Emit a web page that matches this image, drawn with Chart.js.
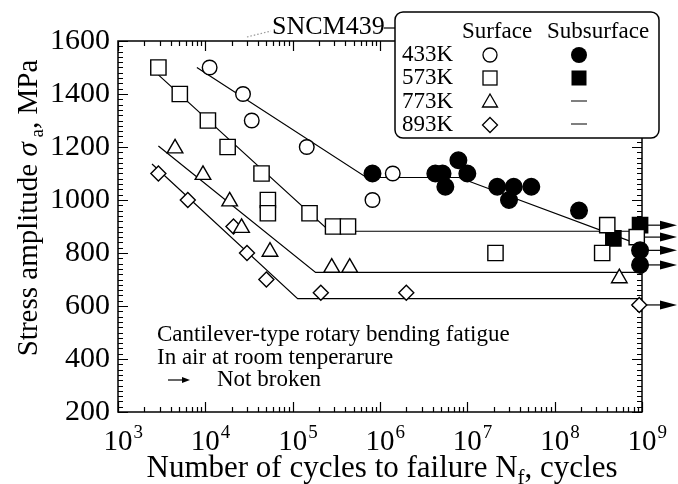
<!DOCTYPE html>
<html>
<head>
<meta charset="utf-8">
<script src="https://cdn.jsdelivr.net/npm/chart.js@4.4.0/dist/chart.umd.min.js"></script>
<style>
  html, body { margin: 0; padding: 0; background: #fff; }
  canvas { display: block; }
  .warm { position: absolute; left: -9999px; font-family: "Liberation Serif", "DejaVu Serif", serif; }
</style>
</head>
<body>
<span class="warm">Font warm-up 0123 <i>italic</i></span>
<canvas id="sn" width="678" height="484"></canvas>
<script>
// S-N data, SNCM439 (cycles to failure, stress amplitude MPa)
const surf433 = [[1.12e4, 1500], [2.7e4, 1400], [3.4e4, 1300], [1.45e5, 1200], [8.2e5, 1000], [1.4e6, 1100]];
const sub433 = [[8.2e5, 1100], [4.3e6, 1100], [5.2e6, 1100], [5.6e6, 1050], [7.9e6, 1150], [1e7, 1100],
                [2.2e7, 1050], [3.0e7, 1000], [3.4e7, 1050], [5.4e7, 1050], [1.9e8, 960], [9.5e8, 810], [9.5e8, 755]];
const surf573 = [[2.9e3, 1500], [5.1e3, 1400], [1.07e4, 1300], [1.8e4, 1200], [4.4e4, 1100], [5.2e4, 1000],
                 [5.2e4, 950], [1.56e5, 950], [2.9e5, 900], [4.3e5, 900], [2.1e7, 800], [3.5e8, 800],
                 [4.0e8, 905], [8.7e8, 860]];
const sub573 = [[4.7e8, 855], [9.5e8, 905]];
const surf773 = [[4.5e3, 1195], [9.4e3, 1095], [1.9e4, 995], [2.6e4, 895], [5.5e4, 805], [2.8e5, 745], [4.5e5, 745], [5.5e8, 705]];
const surf893 = [[2.9e3, 1100], [6.3e3, 1000], [2.1e4, 900], [3.0e4, 800], [5.0e4, 700], [2.1e5, 650], [2.0e6, 650], [9.3e8, 604]];

// fitted S-N lines (knee points)
const line433 = [[8e3, 1500], [7e5, 1085], [8e6, 1085], [1e9, 828]];
const line573 = [[2.9e3, 1472], [2.65e5, 882], [1e9, 882]];
const line773 = [[2.9e3, 1204], [1.83e5, 727], [1e9, 727]];
const line893 = [[2.45e3, 1136], [1.14e5, 628], [1e9, 628]];

// run-outs (not broken)
const notBroken = [[9.5e8, 905], [8.7e8, 860], [9.5e8, 810], [9.5e8, 755], [9.3e8, 604]];

const yTicks = [200, 400, 600, 800, 1000, 1200, 1400, 1600];
const xDecades = [3, 4, 5, 6, 7, 8, 9];

const SERIF = '"Liberation Serif", "DejaVu Serif", serif';
const f = (px, it) => (it ? 'italic ' : '') + px + 'px ' + SERIF;
const pts = a => a.map(p => ({ x: p[0], y: p[1] }));

function markers(data, style, r, filled) {
  return {
    data: pts(data), pointStyle: style, pointRadius: r, pointHoverRadius: r,
    pointBorderWidth: 1.4, pointBorderColor: '#000', pointBackgroundColor: filled ? '#000' : '#fff',
    showLine: false, clip: false, order: 0
  };
}
function sline(data) {
  return { data: pts(data), showLine: true, borderColor: '#000', borderWidth: 1.2, pointRadius: 0, tension: 0, clip: false, order: 1 };
}

// draws a row of text pieces [text, size, dy, italic]
function runs(ctx, parts, x, y, center) {
  let w = 0;
  parts.forEach(p => { ctx.font = f(p[1], p[3]); w += ctx.measureText(p[0]).width; });
  let cx = center ? x - w / 2 : x;
  ctx.textAlign = 'left';
  parts.forEach(p => {
    ctx.font = f(p[1], p[3]);
    ctx.fillText(p[0], cx, y + (p[2] || 0));
    cx += ctx.measureText(p[0]).width;
  });
}

const decor = {
  id: 'decor',
  beforeDatasetsDraw(chart) {
    const ctx = chart.ctx, a = chart.chartArea, xs = chart.scales.x, ys = chart.scales.y;
    ctx.save();
    ctx.strokeStyle = '#000';
    ctx.fillStyle = '#000';
    // inward ticks
    ctx.lineWidth = 1.2;
    ctx.beginPath();
    for (let v = 200; v <= 1600; v += 20) {
      const py = Math.round(ys.getPixelForValue(v)) + 0.5;
      const len = v % 200 === 0 ? 10 : 5;
      ctx.moveTo(a.left, py); ctx.lineTo(a.left + len, py);
      ctx.moveTo(a.right, py); ctx.lineTo(a.right - len, py);
    }
    for (let k = 3; k <= 9; k++) {
      for (let m = 1; m <= 9; m++) {
        if (k === 9 && m > 1) break;
        const px = Math.round(xs.getPixelForValue(m * Math.pow(10, k))) + 0.5;
        const len = m === 1 ? 10 : 5;
        ctx.moveTo(px, a.bottom); ctx.lineTo(px, a.bottom - len);
        ctx.moveTo(px, a.top); ctx.lineTo(px, a.top + len);
      }
    }
    ctx.stroke();
    // frame
    ctx.lineWidth = 1.5;
    ctx.strokeRect(a.left, a.top, a.right - a.left, a.bottom - a.top);
    // run-out arrows
    ctx.lineWidth = 1.2;
    notBroken.forEach(p => {
      const px = xs.getPixelForValue(p[0]), py = ys.getPixelForValue(p[1]);
      const end = a.right + 35;
      ctx.beginPath();
      ctx.moveTo(px, py); ctx.lineTo(end - 14, py);
      ctx.stroke();
      ctx.beginPath();
      ctx.moveTo(end, py); ctx.lineTo(end - 17, py - 4.5); ctx.lineTo(end - 17, py + 4.5);
      ctx.closePath();
      ctx.fill();
    });
    ctx.restore();
  },
  afterDraw(chart) {
    const ctx = chart.ctx, a = chart.chartArea, xs = chart.scales.x;
    ctx.save();
    ctx.fillStyle = '#000';
    ctx.strokeStyle = '#000';
    ctx.textBaseline = 'alphabetic';
    // x tick labels 10^k
    xDecades.forEach(k => {
      const px = xs.getPixelForValue(Math.pow(10, k));
      ctx.font = f(29);
      ctx.textAlign = 'center';
      ctx.fillText('10', px, 450);
      const w = ctx.measureText('10').width;
      ctx.font = f(19);
      ctx.textAlign = 'left';
      ctx.fillText(String(k), px + w / 2 + 1, 438);
    });
    // axis titles
    runs(ctx, [['Number of cycles to failure N', 31], ['f', 21, 7], [', cycles', 31]], (a.left + a.right) / 2 + 2, 477, true);
    ctx.save();
    ctx.translate(37, 208);
    ctx.rotate(-Math.PI / 2);
    runs(ctx, [['Stress amplitude ', 29], ['\u03c3', 29, 0, true], [' a', 19, 6], [', MPa', 29]], 0, 0, true);
    ctx.restore();
    // annotation
    ctx.font = f(23);
    ctx.textAlign = 'left';
    ctx.textBaseline = 'middle';
    ctx.fillText('Cantilever-type rotary bending fatigue', 157, 335);
    ctx.fillText('In air at room tenperarure', 157, 358);
    ctx.fillText('Not broken', 217, 380);
    ctx.lineWidth = 1.2;
    ctx.beginPath();
    ctx.moveTo(168, 380); ctx.lineTo(186, 380);
    ctx.stroke();
    ctx.beginPath();
    ctx.moveTo(190, 380); ctx.lineTo(182, 377); ctx.lineTo(182, 383);
    ctx.closePath();
    ctx.fill();
    // material label
    ctx.font = f(26);
    ctx.textBaseline = 'alphabetic';
    ctx.fillText('SNCM439', 272, 34);
    ctx.beginPath();
    ctx.moveTo(384, 28); ctx.lineTo(395, 28);
    ctx.stroke();
    ctx.save();
    ctx.strokeStyle = '#999';
    ctx.setLineDash([1.5, 2]);
    ctx.beginPath();
    ctx.moveTo(247, 37); ctx.lineTo(271, 31);
    ctx.stroke();
    ctx.restore();
    // legend box
    ctx.beginPath();
    ctx.roundRect(395, 12, 264, 126, 8);
    ctx.fillStyle = '#fff';
    ctx.fill();
    ctx.lineWidth = 1.5;
    ctx.stroke();
    ctx.fillStyle = '#000';
    ctx.font = f(23);
    ctx.textBaseline = 'middle';
    ctx.textAlign = 'center';
    ctx.fillText('Surface', 497, 32);
    ctx.fillText('Subsurface', 598, 32);
    ctx.textAlign = 'left';
    const rows = [['433K', 55], ['573K', 78], ['773K', 102], ['893K', 125]];
    rows.forEach(r => ctx.fillText(r[0], 402, r[1]));
    ctx.lineWidth = 1.3;
    const mx = 490, sx = 579;
    // open circle
    ctx.beginPath(); ctx.arc(mx, 55, 7, 0, Math.PI * 2); ctx.stroke();
    // open square
    ctx.strokeRect(mx - 7, 71, 14, 14);
    // triangle
    ctx.beginPath(); ctx.moveTo(mx, 94); ctx.lineTo(mx + 7.5, 107); ctx.lineTo(mx - 7.5, 107); ctx.closePath(); ctx.stroke();
    // diamond
    ctx.beginPath(); ctx.moveTo(mx, 117.5); ctx.lineTo(mx + 7.5, 125); ctx.lineTo(mx, 132.5); ctx.lineTo(mx - 7.5, 125); ctx.closePath(); ctx.stroke();
    // filled circle, filled square
    ctx.beginPath(); ctx.arc(sx, 55, 8, 0, Math.PI * 2); ctx.fill();
    ctx.fillRect(sx - 7.5, 70.5, 15, 15);
    ctx.lineWidth = 1.2;
    ctx.beginPath();
    ctx.moveTo(sx - 8, 101); ctx.lineTo(sx + 8, 101);
    ctx.moveTo(sx - 8, 124); ctx.lineTo(sx + 8, 124);
    ctx.stroke();
    ctx.restore();
  }
};

function draw() {
  new Chart(document.getElementById('sn'), {
    type: 'scatter',
    data: {
      datasets: [
        markers(surf433, 'circle', 7.3, false),
        markers(sub433, 'circle', 8.3, true),
        markers(surf573, 'rect', 10.8, false),
        markers(sub573, 'rect', 10.8, true),
        markers(surf773, 'triangle', 9, false),
        markers(surf893, 'rectRot', 7.5, false),
        sline(line433),
        sline(line573),
        sline(line773),
        sline(line893)
      ]
    },
    options: {
      responsive: false,
      animation: false,
      events: [],
      layout: { padding: { top: 41, right: 36, left: 0, bottom: 0 } },
      plugins: { legend: { display: false }, tooltip: { enabled: false } },
      scales: {
        x: {
          type: 'logarithmic', min: 1e3, max: 1e9,
          grid: { display: false }, border: { display: false },
          ticks: { display: false },
          afterFit: s => { s.height = 72; }
        },
        y: {
          min: 200, max: 1600,
          grid: { display: false, drawTicks: false }, border: { display: false },
          afterBuildTicks: s => { s.ticks = yTicks.map(v => ({ value: v })); },
          ticks: {
            autoSkip: false, padding: 8, color: '#000',
            font: { family: SERIF, size: 30 },
            callback: v => String(v)
          },
          afterFit: s => { s.width = 118; }
        }
      }
    },
    plugins: [decor]
  });
}

Promise.all([
  document.fonts.load('30px "Liberation Serif"'),
  document.fonts.load('italic 30px "Liberation Serif"')
]).then(draw, draw);
</script>
</body>
</html>
